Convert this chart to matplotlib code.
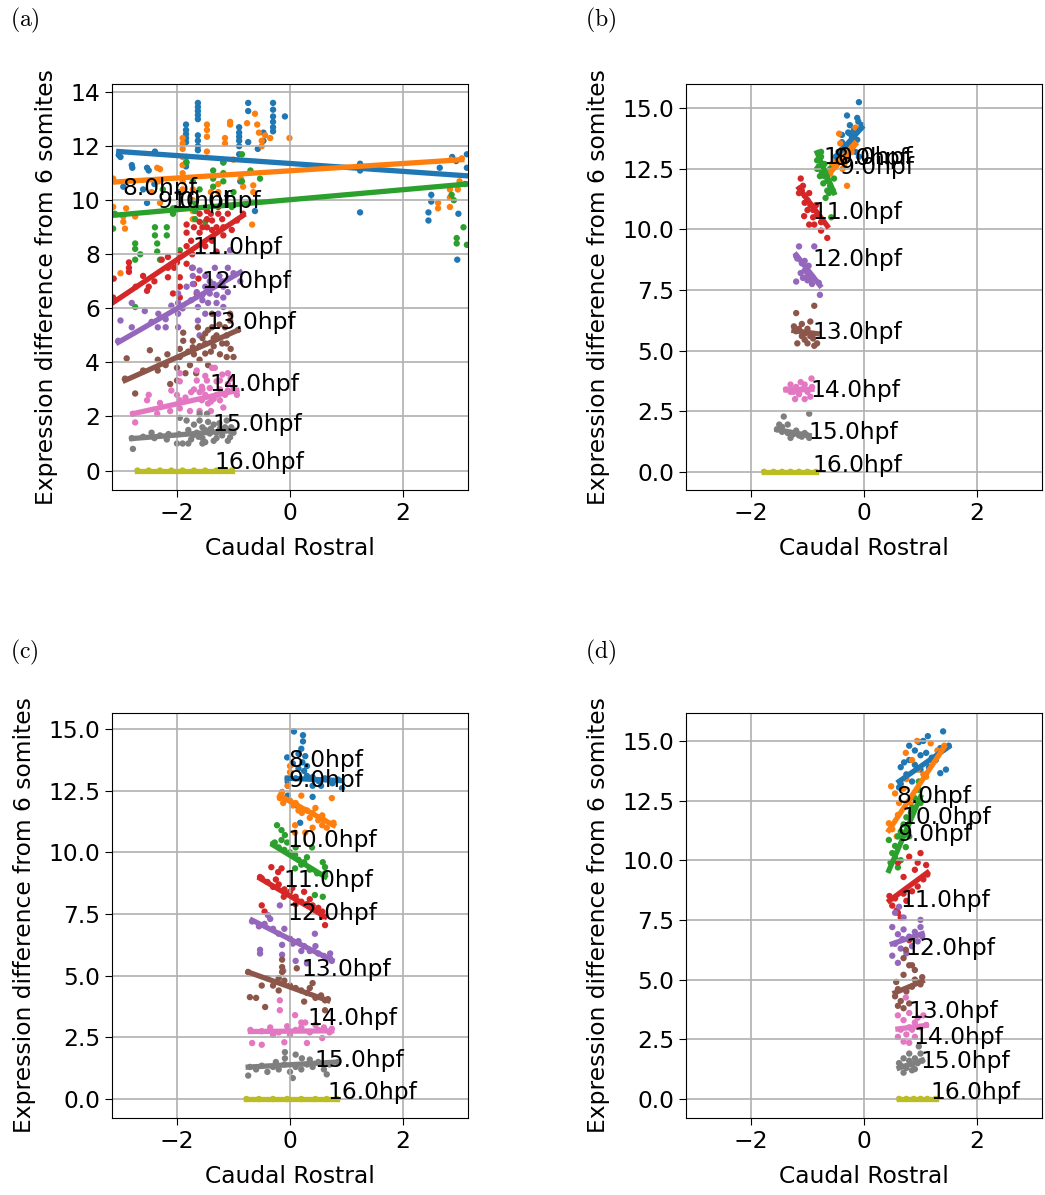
import numpy as np
import matplotlib
matplotlib.use("Agg")
import matplotlib.pyplot as plt

plt.rcParams["mathtext.fontset"] = "cm"
plt.rcParams["font.family"] = ["DejaVu Sans"]

hours = [8.0, 9.0, 10.0, 11.0, 12.0, 13.0, 14.0, 15.0, 16.0]
colors = ["C0", "C1", "C2", "C3", "C4", "C5", "C6", "C7", "C8"]

# ---------------- panel (a): cells per stage, (position, expression) ----------------
a8 = [(-3.03, 11.67), (-3.0, 11.6), (-2.95, 10.5), (-2.8, 11.3), (-2.79, 11.2), (-2.6, 10.4),
      (-2.53, 11.2), (-2.5, 11.1), (-2.53, 9.9), (-2.4, 10.6), (-2.39, 11.8),
      (-1.84, 12.8), (-1.84, 12.6), (-1.84, 12.45), (-1.84, 12.3), (-1.84, 12.15), (-1.84, 11.4),
      (-1.84, 11.25), (-1.63, 13.6), (-1.63, 13.45), (-1.63, 13.3), (-1.63, 13.15), (-1.63, 13.0),
      (-1.63, 12.4), (-1.63, 12.2), (-1.63, 12.0), (-1.63, 11.85), (-1.95, 10.3), (-1.18, 11.4),
      (-0.9, 12.7), (-0.9, 12.5), (-0.9, 12.35), (-0.9, 12.2), (-0.9, 12.0), (-0.9, 11.7), (-0.88, 10.7),
      (-0.74, 13.6), (-0.74, 13.3), (-0.74, 12.15), (-0.57, 11.9), (-0.47, 12.5), (-0.47, 12.2),
      (-0.3, 13.6), (-0.3, 13.35), (-0.3, 13.1), (-0.3, 12.9), (-0.3, 12.7), (-0.3, 12.55),
      (-0.09, 13.1), (-0.62, 9.6), (1.24, 11.35), (1.24, 11.1), (1.24, 9.55), (2.5, 10.2),
      (2.5, 9.95), (2.45, 9.55), (2.45, 9.25), (2.65, 11.2), (2.87, 11.6), (2.94, 11.45),
      (2.98, 9.5), (2.96, 7.8), (3.13, 11.7), (3.13, 11.2), (3.1, 10.6)]
a9 = [(-3.13, 10.8), (-3.13, 9.75), (-2.95, 9.4), (-2.95, 9.2), (-2.92, 8.95), (-3.0, 7.3),
      (-2.9, 9.7), (-2.74, 9.4), (-2.35, 11.2), (-2.3, 11.15), (-2.3, 9.9), (-2.33, 10.7),
      (-2.45, 10.3), (-1.9, 12.3), (-1.9, 12.1), (-1.9, 11.9), (-1.9, 11.6), (-1.9, 11.3),
      (-1.9, 11.0), (-1.9, 10.7), (-1.9, 10.4), (-1.47, 12.8), (-1.47, 12.6), (-1.47, 12.35),
      (-1.47, 11.8), (-1.72, 10.4), (-1.72, 10.0), (-1.72, 9.6), (-1.72, 9.3), (-1.15, 12.3),
      (-1.15, 12.1), (-1.06, 12.9), (-1.06, 12.8), (-1.27, 10.6), (-1.27, 10.3), (-0.83, 10.5),
      (-0.76, 12.85), (-0.62, 13.2), (-0.58, 12.8), (-0.55, 12.5), (-0.5, 12.2), (-0.5, 12.0),
      (-0.44, 12.4), (-0.35, 12.3), (-0.01, 12.3), (-0.67, 9.1), (-0.87, 10.8), (-1.4, 10.3),
      (-1.0, 11.5), (-0.65, 10.55), (-0.65, 10.3), (2.62, 9.9), (2.62, 9.7), (2.83, 10.4),
      (2.83, 10.1), (2.83, 9.75), (2.97, 10.4), (2.85, 11.5), (3.0, 10.7), (3.04, 11.55)]
a10 = [(-3.13, 8.95), (-3.1, 9.5), (-2.74, 8.4), (-2.74, 8.2), (-2.74, 7.8), (-2.74, 6.05),
       (-2.65, 8.0), (-2.39, 9.0), (-2.39, 8.7), (-2.35, 8.4), (-2.35, 8.1), (-2.3, 7.8),
       (-2.18, 9.0), (-2.18, 8.7), (-2.07, 9.7), (-2.07, 9.5), (-1.95, 8.15), (-1.72, 10.7),
       (-1.68, 9.9), (-1.68, 9.6), (-1.68, 9.3), (-1.6, 10.4), (-1.36, 11.1), (-1.36, 10.8),
       (-1.36, 10.5), (-1.18, 11.4), (-1.18, 11.0), (-1.18, 10.7), (-1.03, 9.75), (-0.85, 11.7),
       (-0.85, 10.7), (-0.7, 11.1), (-0.53, 10.8), (-1.83, 11.6), (-1.83, 11.4), (-2.25, 10.4),
       (-1.5, 9.2), (-1.0, 10.3), (2.86, 10.2), (2.9, 10.0), (2.95, 8.6), (2.95, 8.4),
       (3.07, 9.0), (3.13, 8.35)]
a11 = [(-3.12, 7.1), (-2.85, 7.7), (-2.85, 7.5), (-2.85, 7.35), (-2.73, 6.8), (-2.53, 6.65),
       (-2.5, 6.8), (-2.27, 7.8), (-2.16, 7.9), (-2.16, 7.5), (-2.16, 7.15), (-2.05, 7.5),
       (-1.95, 7.15), (-1.95, 6.8), (-1.95, 6.4), (-1.83, 7.65), (-1.83, 8.3), (-1.73, 8.0),
       (-1.73, 7.5), (-1.62, 7.1), (-1.83, 9.1), (-1.83, 8.8), (-1.6, 9.5), (-1.6, 9.2),
       (-1.6, 8.8), (-1.47, 9.6), (-1.47, 9.3), (-1.47, 9.0), (-1.38, 9.25), (-1.38, 8.9),
       (-1.38, 8.5), (-1.27, 9.75), (-1.27, 9.5), (-1.18, 9.0), (-1.18, 8.7), (-1.03, 8.9),
       (-0.94, 9.25), (-0.83, 9.5), (-2.07, 6.55), (-1.65, 6.55), (-1.7, 6.9), (-2.6, 7.2),
       (-2.4, 7.0), (-1.5, 8.3), (-1.3, 8.1), (-3.13, 6.4), (-1.7, 9.0), (-1.55, 9.0),
       (-1.4, 9.5), (-1.3, 9.0), (-1.2, 9.3), (-1.1, 9.5), (-1.75, 8.5), (-1.95, 8.0),
       (-2.0, 7.7)]
a12 = [(-3.04, 4.8), (-3.0, 5.55), (-2.8, 6.2), (-2.8, 5.3), (-2.57, 5.9), (-2.34, 5.3),
       (-2.33, 5.8), (-2.2, 5.6), (-2.2, 5.3), (-1.98, 6.55), (-1.98, 6.2), (-1.98, 5.8),
       (-1.98, 5.3), (-1.83, 6.8), (-1.72, 7.5), (-1.72, 7.2), (-1.72, 6.9), (-1.63, 6.05),
       (-1.63, 5.55), (-1.55, 6.5), (-1.55, 6.3), (-1.42, 7.0), (-1.42, 6.75), (-1.42, 6.55),
       (-1.33, 7.5), (-1.27, 5.8), (-1.18, 6.8), (-1.18, 6.4), (-1.18, 6.05), (-1.1, 7.5),
       (-1.06, 8.15), (-1.6, 5.0), (-1.9, 6.0), (-1.5, 7.2), (-1.3, 6.2), (-0.88, 7.0),
       (-1.0, 7.3), (-2.45, 5.5), (-2.1, 6.1), (-1.65, 6.6), (-1.5, 6.8), (-1.45, 6.2),
       (-1.35, 6.9), (-1.25, 7.2), (-1.3, 6.5), (-1.2, 7.0), (-1.6, 7.4), (-1.75, 6.3),
       (-1.5, 5.8), (-1.1, 6.6)]
a13 = [(-2.92, 3.4), (-2.89, 4.15), (-2.74, 2.85), (-2.48, 4.45), (-2.34, 4.1), (-2.34, 3.7),
       (-2.17, 4.3), (-2.12, 3.2), (-2.0, 3.8), (-2.0, 3.33), (-1.95, 4.5), (-1.95, 4.2),
       (-1.89, 5.1), (-1.89, 4.8), (-1.77, 3.9), (-1.72, 4.8), (-1.72, 4.56), (-1.66, 3.6),
       (-1.63, 5.3), (-1.5, 5.07), (-1.5, 4.7), (-1.5, 4.33), (-1.38, 5.8), (-1.38, 5.3),
       (-1.35, 4.9), (-1.35, 4.6), (-1.24, 4.3), (-1.12, 4.2), (-1.12, 5.0), (-1.12, 4.7),
       (-1.06, 5.8), (-1.06, 5.55), (-1.0, 4.2), (-0.92, 5.2), (-1.6, 4.1), (-1.8, 4.4),
       (-2.6, 3.7), (-1.45, 3.9), (-1.55, 4.9), (-1.45, 5.2), (-1.4, 4.4), (-1.3, 5.0),
       (-1.25, 5.4), (-1.2, 4.7), (-1.15, 5.3), (-1.6, 4.6), (-1.7, 4.3), (-2.2, 3.9),
       (-1.85, 3.6), (-1.05, 4.5)]
a14 = [(-2.78, 2.1), (-2.74, 1.78), (-2.53, 2.6), (-2.5, 2.8), (-2.35, 2.1), (-2.3, 2.5),
       (-2.12, 2.2), (-2.1, 2.96), (-1.95, 3.6), (-1.95, 3.3), (-1.95, 2.6), (-1.95, 2.3),
       (-1.77, 2.2), (-1.75, 2.9), (-1.65, 3.7), (-1.65, 3.33), (-1.56, 3.1), (-1.56, 2.6),
       (-1.47, 3.33), (-1.45, 2.48), (-1.4, 2.2), (-1.38, 3.8), (-1.33, 3.8), (-1.24, 3.33),
       (-1.24, 3.0), (-1.24, 2.6), (-1.18, 2.33), (-1.1, 3.6), (-1.1, 3.2), (-1.1, 2.96),
       (-1.0, 3.07), (-0.94, 2.8), (-1.5, 2.8), (-1.3, 2.8), (-1.85, 2.7), (-1.6, 2.2),
       (-1.55, 3.0), (-1.5, 3.5), (-1.42, 3.05), (-1.35, 2.65), (-1.3, 3.3), (-1.2, 3.55),
       (-1.15, 2.8), (-1.05, 3.4), (-1.6, 2.9), (-1.7, 3.0), (-1.4, 2.55), (-2.0, 2.8)]
a15 = [(-2.8, 1.2), (-2.78, 0.8), (-2.45, 1.4), (-2.4, 1.2), (-2.18, 1.15), (-2.15, 1.35),
       (-2.0, 1.0), (-1.97, 1.35), (-1.83, 1.85), (-1.8, 1.5), (-1.8, 1.0), (-1.72, 1.3),
       (-1.6, 2.1), (-1.6, 1.85), (-1.55, 1.6), (-1.55, 1.2), (-1.55, 1.0), (-1.47, 2.1),
       (-1.42, 1.37), (-1.35, 1.7), (-1.35, 1.1), (-1.24, 1.55), (-1.12, 1.85), (-1.06, 1.23),
       (-1.04, 1.6), (-1.95, 1.95), (-1.9, 1.0), (-1.3, 1.4), (-1.65, 1.4), (-1.0, 1.4),
       (-1.5, 1.5), (-1.45, 1.8), (-1.4, 1.55), (-1.3, 1.2), (-1.25, 1.75), (-1.2, 1.3),
       (-1.15, 1.6), (-1.1, 1.1), (-1.05, 1.45), (-1.7, 1.7), (-1.75, 1.15), (-1.62, 1.25),
       (-1.5, 1.05), (-2.3, 1.3), (-2.6, 1.25)]
a16 = [(-2.7, 0.0), (-2.5, 0.0), (-2.3, 0.0), (-2.1, 0.0), (-1.9, 0.0), (-1.7, 0.0),
       (-1.5, 0.0), (-1.3, 0.0), (-1.15, 0.0), (-1.03, 0.0)]
# regression (slope, intercept) per stage
a_fit = [(-0.146, 11.36), (0.1345, 11.09), (0.185, 10.02), (1.4, 10.6), (1.2, 8.39),
         (0.93, 6.05), (0.467, 3.40), (0.167, 1.65), (0.0, 0.0)]
a_lab = [(-2.97, 10.2), (-2.35, 9.73), (-2.09, 9.73), (-1.72, 8.0), (-1.56, 6.75),
         (-1.47, 5.25), (-1.42, 2.96), (-1.38, 1.48), (-1.33, 0.07)]

# ---------------- panel (b) ----------------
b8 = [(-0.3, 14.7), (-0.09, 15.25), (-0.12, 14.6), (-0.1, 14.45), (-0.25, 14.3), (-0.25, 13.95),
      (-0.21, 13.8), (-0.21, 13.4), (-0.39, 13.9), (-0.39, 13.6), (-0.39, 13.3), (-0.39, 13.0),
      (-0.15, 13.2), (-0.5, 13.0), (-0.09, 13.0), (-0.3, 13.5), (-0.18, 14.1), (-0.45, 13.2),
      (-0.05, 14.2), (-0.28, 14.0), (-0.04, 14.3), (-0.33, 13.2), (-0.12, 13.7)]
b9 = [(-0.44, 13.95), (-0.42, 13.55), (-0.15, 14.2), (-0.3, 11.8), (-0.57, 12.7), (-0.5, 12.6),
      (-0.45, 12.8), (-0.4, 13.0), (-0.35, 12.7), (-0.3, 13.3), (-0.25, 13.5), (-0.2, 13.6),
      (-0.5, 12.9), (-0.38, 12.5), (-0.28, 12.9), (-0.6, 12.3), (-0.33, 13.1), (-0.22, 13.2)]
b10 = [(-0.76, 13.2), (-0.76, 13.0), (-0.83, 12.85), (-0.8, 12.6), (-0.75, 12.4), (-0.7, 12.2),
       (-0.83, 12.5), (-0.67, 12.3), (-0.65, 12.0), (-0.6, 11.8), (-0.55, 11.6), (-0.53, 12.1),
       (-0.68, 11.3), (-0.58, 10.5), (-0.62, 11.5), (-0.72, 11.9), (-0.78, 12.2), (-0.6, 12.5),
       (-0.7, 12.7), (-0.65, 11.6)]
b11 = [(-1.12, 12.1), (-1.1, 11.6), (-1.15, 11.5), (-1.05, 11.4), (-1.0, 11.2), (-0.95, 11.0),
       (-0.9, 10.8), (-0.83, 10.6), (-1.06, 10.55), (-0.97, 10.2), (-0.97, 11.5), (-0.76, 10.3),
       (-0.76, 9.95), (-0.65, 9.65), (-0.9, 10.5), (-1.0, 10.8), (-0.85, 11.0), (-1.08, 11.8),
       (-1.05, 11.1), (-0.88, 10.2)]
b12 = [(-1.15, 9.3), (-0.88, 9.3), (-1.2, 8.9), (-1.18, 8.8), (-1.1, 8.6), (-1.05, 8.3),
       (-1.0, 8.1), (-0.95, 7.9), (-0.92, 7.75), (-1.2, 7.85), (-1.0, 7.9), (-0.8, 7.8),
       (-0.78, 7.3), (-1.05, 8.7), (-1.12, 8.2), (-0.98, 8.5), (-0.9, 8.0), (-1.08, 8.0)]
b13 = [(-1.2, 6.55), (-0.88, 6.85), (-1.24, 6.0), (-1.2, 5.8), (-1.15, 5.9), (-1.1, 6.1),
       (-1.05, 5.7), (-1.0, 5.9), (-0.95, 5.6), (-0.9, 5.5), (-0.83, 5.3), (-1.18, 5.3),
       (-0.95, 6.2), (-0.88, 5.2), (-1.05, 5.45), (-1.1, 5.6), (-1.0, 5.3)]
b14 = [(-1.38, 3.4), (-1.3, 3.6), (-1.25, 3.3), (-1.2, 3.5), (-1.15, 3.2), (-1.1, 3.4),
       (-1.05, 3.6), (-1.0, 3.3), (-0.95, 3.1), (-0.92, 3.5), (-0.93, 3.85), (-1.22, 3.0),
       (-1.05, 3.0), (-1.3, 3.3), (-1.12, 3.7), (-1.18, 3.4)]
b15 = [(-1.42, 2.28), (-0.97, 2.4), (-1.5, 1.95), (-1.35, 1.95), (-1.54, 1.75), (-1.45, 1.65),
       (-1.35, 1.6), (-1.25, 1.55), (-1.2, 1.7), (-1.15, 1.5), (-1.1, 1.45), (-1.05, 1.6),
       (-1.0, 1.5), (-0.97, 1.4), (-1.3, 1.4), (-1.45, 1.85)]
b16 = [(-1.77, 0.0), (-1.6, 0.0), (-1.45, 0.0), (-1.3, 0.0), (-1.15, 0.0), (-1.0, 0.0), (-0.85, 0.0)]
b_fit = [(2.6, 14.3), (2.6, 13.9), (-5.5, 8.6), (-3.1, 8.13), (-3.0, 5.35),
         (-0.3, 5.45), (0.05, 3.45), (-0.43, 1.08), (0.0, 0.0)]
b_lab = [(-0.55, 12.65), (-0.44, 12.3), (-0.71, 12.7), (-0.92, 10.45), (-0.92, 8.5),
         (-0.92, 5.47), (-0.94, 3.1), (-0.99, 1.37), (-0.92, 0.0)]

# ---------------- panel (c) ----------------
c8 = [(0.07, 14.9), (0.23, 14.75), (0.23, 14.5), (0.2, 14.2), (0.27, 13.9), (0.22, 13.65),
      (-0.05, 13.85), (0.05, 13.6), (0.15, 13.4), (0.25, 13.3), (0.3, 13.1), (-0.04, 12.85),
      (-0.04, 12.7), (-0.04, 12.3), (0.4, 13.05), (0.4, 12.7), (0.62, 13.0), (0.75, 12.8),
      (0.92, 12.6), (0.85, 12.95), (0.12, 11.9), (0.4, 12.25), (0.18, 11.2), (0.1, 13.0),
      (0.5, 12.9), (0.15, 14.0), (0.3, 13.5), (0.55, 12.7)]
c9 = [(0.0, 13.5), (0.0, 13.25), (-0.14, 12.45), (-0.14, 12.25), (-0.12, 12.0), (0.0, 12.1),
      (0.05, 11.9), (0.1, 12.0), (0.21, 11.6), (0.3, 11.7), (0.35, 11.4), (0.57, 11.5),
      (0.57, 11.1), (0.77, 11.2), (0.74, 12.2), (0.09, 11.1), (0.09, 10.8), (0.27, 10.8),
      (0.5, 11.3), (-0.04, 13.0), (-0.04, 12.7), (0.45, 11.8), (0.65, 11.0), (0.2, 12.3),
      (0.4, 11.0), (-0.18, 12.2), (0.15, 11.7), (0.4, 11.6), (0.6, 11.3)]
c10 = [(-0.23, 11.1), (-0.15, 10.9), (-0.09, 10.7), (-0.27, 10.4), (-0.3, 10.35), (-0.2, 10.2),
       (-0.1, 10.1), (0.0, 10.0), (0.09, 9.9), (0.15, 9.7), (0.25, 9.6), (0.3, 9.8), (0.39, 10.2),
       (0.58, 9.6), (0.62, 9.4), (0.62, 9.15), (0.48, 9.15), (0.44, 8.27), (0.58, 8.2),
       (0.09, 9.35), (0.2, 9.5), (-0.05, 10.4), (0.35, 9.3), (-0.15, 10.5), (0.1, 10.2)]
c11 = [(-0.33, 9.4), (-0.21, 9.2), (-0.15, 9.35), (-0.5, 8.95), (-0.4, 8.8), (-0.3, 8.6),
       (-0.2, 8.7), (-0.1, 8.5), (0.0, 8.4), (0.04, 8.55), (0.1, 8.2), (0.2, 8.0), (0.3, 7.9),
       (0.4, 7.85), (0.5, 7.75), (0.57, 7.6), (0.57, 7.4), (0.62, 7.05), (-0.5, 7.85),
       (-0.45, 7.6), (-0.11, 8.2), (0.25, 8.4), (0.1, 7.9), (-0.53, 9.0), (-0.25, 8.9),
       (0.35, 8.1)]
c12 = [(-0.18, 7.85), (-0.39, 7.45), (-0.67, 7.2), (-0.55, 7.0), (-0.45, 7.1), (-0.3, 6.9),
       (-0.2, 6.7), (-0.1, 6.9), (0.0, 6.5), (0.05, 6.3), (0.15, 6.4), (0.25, 6.2), (0.35, 6.0),
       (0.44, 6.7), (0.5, 5.9), (0.6, 5.8), (0.71, 5.9), (0.71, 5.7), (-0.53, 6.05),
       (-0.53, 5.9), (-0.14, 6.25), (-0.14, 5.85), (0.1, 5.6), (0.3, 5.5), (-0.12, 5.2),
       (0.74, 5.6), (-0.35, 7.3), (0.2, 6.0), (0.45, 6.2)]
c13 = [(-0.14, 5.65), (-0.14, 5.35), (-0.14, 5.15), (-0.74, 5.15), (-0.71, 4.13), (-0.6, 4.1),
       (-0.44, 3.73), (-0.4, 4.9), (-0.3, 4.6), (-0.2, 4.4), (-0.1, 4.8), (0.0, 4.6), (0.12, 5.3),
       (0.1, 4.5), (0.2, 4.4), (0.3, 4.3), (0.4, 4.7), (0.45, 4.1), (0.55, 4.2), (0.62, 4.0),
       (0.62, 3.6), (0.67, 4.05), (-0.5, 4.6), (0.25, 3.95), (-0.2, 4.9), (0.35, 4.5)]
c14 = [(-0.18, 4.0), (-0.18, 3.6), (0.09, 3.4), (0.27, 3.1), (-0.7, 2.8), (-0.5, 2.75),
       (-0.35, 2.9), (-0.2, 2.7), (-0.05, 2.95), (0.1, 2.8), (0.2, 2.9), (0.35, 2.7), (0.5, 2.8),
       (0.6, 2.9), (0.74, 2.85), (0.7, 2.7), (-0.67, 2.27), (-0.5, 2.2), (-0.1, 2.3), (0.3, 2.27),
       (0.57, 2.47), (0.0, 2.6), (0.45, 3.0), (0.2, 3.1), (-0.3, 2.6)]
c15 = [(-0.09, 1.9), (-0.09, 1.65), (0.1, 1.8), (0.21, 1.65), (-0.71, 1.3), (-0.6, 1.2),
       (-0.5, 1.35), (-0.4, 1.1), (-0.3, 1.3), (-0.2, 1.2), (-0.1, 1.4), (0.0, 1.1), (0.1, 1.3),
       (0.2, 1.2), (0.3, 1.4), (0.4, 1.3), (0.5, 1.5), (0.6, 1.2), (0.7, 1.4), (0.85, 1.5),
       (0.05, 0.85), (-0.74, 0.95), (0.65, 1.0), (0.35, 1.6), (-0.25, 1.5)]
c16 = [(-0.77, 0.0), (-0.55, 0.0), (-0.3, 0.0), (-0.05, 0.0), (0.2, 0.0), (0.45, 0.0),
       (0.65, 0.0), (0.83, 0.0)]
c_fit = [(-0.1, 13.0), (-1.26, 12.07), (-1.4, 9.88), (-1.35, 8.23), (-1.15, 6.48),
         (-0.82, 4.54), (0.02, 2.75), (0.13, 1.39), (0.0, 0.0)]
c_lab = [(-0.02, 13.45), (-0.02, 12.65), (-0.04, 10.2), (-0.12, 8.6), (-0.05, 7.25),
         (0.21, 5.0), (0.3, 3.0), (0.44, 1.3), (0.67, 0.0)]

# ---------------- panel (d) ----------------
d8 = [(1.4, 15.4), (1.13, 15.2), (0.97, 14.95), (0.8, 14.8), (0.9, 14.6), (1.0, 14.4),
      (1.1, 14.5), (1.2, 14.3), (1.35, 14.7), (1.5, 14.8), (0.71, 14.1), (0.65, 13.9),
      (0.75, 13.6), (0.85, 13.3), (0.65, 13.2), (1.27, 14.2), (1.45, 13.8), (1.35, 13.65),
      (0.62, 13.05), (1.0, 13.8), (1.15, 13.9), (0.8, 14.2), (1.05, 15.0), (0.9, 14.0)]
d9 = [(0.94, 15.0), (0.48, 13.1), (0.55, 12.8), (0.62, 12.4), (0.44, 11.55), (0.5, 11.3),
      (0.58, 11.0), (0.74, 14.5), (0.85, 14.2), (0.95, 13.8), (1.05, 13.6), (1.1, 13.5),
      (1.18, 14.9), (0.83, 12.4), (0.7, 13.0), (1.3, 14.6), (1.42, 14.8), (0.6, 11.9),
      (0.75, 13.4), (1.2, 14.2)]
d10 = [(0.97, 13.3), (0.97, 12.95), (0.9, 12.6), (0.85, 12.2), (0.83, 12.0), (0.75, 11.8),
       (0.7, 11.5), (0.65, 11.2), (0.6, 11.0), (0.44, 10.85), (0.55, 10.6), (0.74, 10.55),
       (0.5, 10.3), (0.47, 9.9), (0.6, 9.7), (0.8, 11.0), (1.0, 12.4), (0.55, 10.1), (0.65, 10.0)]
d11 = [(1.1, 9.8), (1.0, 10.3), (0.8, 10.15), (0.6, 9.9), (0.9, 9.6), (1.05, 9.2), (0.95, 8.9),
       (0.85, 8.7), (0.7, 8.6), (0.55, 8.4), (0.5, 8.1), (0.6, 7.8), (0.58, 7.9), (0.75, 8.3),
       (0.65, 7.6), (0.8, 6.65), (1.12, 9.4), (0.45, 8.5), (0.7, 9.3), (0.95, 9.9)]
d12 = [(0.62, 8.05), (0.55, 7.8), (0.7, 7.6), (0.5, 7.2), (0.6, 6.9), (0.7, 7.1), (0.8, 6.8),
       (0.9, 7.0), (1.0, 7.5), (1.0, 7.2), (1.03, 6.8), (0.55, 6.5), (0.65, 6.3), (0.75, 6.1),
       (0.5, 6.0), (0.6, 5.7), (0.85, 6.4), (0.95, 6.6), (0.68, 6.7)]
d13 = [(0.74, 6.25), (0.7, 5.9), (0.8, 5.6), (0.9, 5.4), (1.03, 5.1), (0.95, 4.9), (0.85, 4.7),
       (0.75, 4.5), (0.6, 4.6), (0.55, 4.3), (0.65, 4.1), (0.8, 4.0), (0.7, 3.8), (0.6, 3.9),
       (1.0, 4.8), (0.9, 5.0), (0.57, 4.9), (0.85, 5.6), (0.7, 5.2)]
d14 = [(0.74, 4.25), (0.6, 3.5), (0.7, 3.3), (0.8, 3.6), (0.9, 3.2), (1.0, 3.0), (1.1, 3.1),
       (0.65, 2.9), (0.75, 2.7), (0.85, 2.9), (0.95, 3.4), (0.6, 2.6), (0.7, 2.4), (0.8, 2.35),
       (1.05, 3.5), (0.9, 2.6), (0.8, 3.0)]
d15 = [(0.97, 2.2), (1.0, 1.9), (0.9, 1.7), (0.8, 1.6), (0.7, 1.7), (0.65, 1.4), (0.75, 1.3),
       (0.85, 1.2), (0.95, 1.5), (1.03, 1.6), (0.7, 1.1), (0.9, 1.25), (0.62, 1.5), (0.8, 1.9),
       (0.85, 1.45)]
d16 = [(0.62, 0.0), (0.75, 0.0), (0.88, 0.0), (1.0, 0.0), (1.12, 0.0), (1.27, 0.0)]
d_fit = [(1.65, 12.28), (3.56, 9.69), (5.5, 7.15), (1.75, 7.52), (0.8, 6.1),
         (1.0, 3.9), (0.3, 2.75), (0.8, 0.8), (0.0, 0.0)]
d_lab = [(0.57, 12.4), (0.6, 10.8), (0.67, 11.5), (0.65, 8.05), (0.74, 6.05),
         (0.78, 3.4), (0.88, 2.3), (1.0, 1.3), (1.17, 0.0)]

panels = [
    ("(a)", [a8, a9, a10, a11, a12, a13, a14, a15, a16], a_fit, a_lab, (-0.72, 14.3),
     np.arange(0, 15, 2), "{:.0f}"),
    ("(b)", [b8, b9, b10, b11, b12, b13, b14, b15, b16], b_fit, b_lab, (-0.75, 16.0),
     np.arange(0, 15.1, 2.5), "{:.1f}"),
    ("(c)", [c8, c9, c10, c11, c12, c13, c14, c15, c16], c_fit, c_lab, (-0.77, 15.65),
     np.arange(0, 15.1, 2.5), "{:.1f}"),
    ("(d)", [d8, d9, d10, d11, d12, d13, d14, d15, d16], d_fit, d_lab, (-0.8, 16.17),
     np.arange(0, 15.1, 2.5), "{:.1f}"),
]

W, H = 1045, 1195
fig = plt.figure(figsize=(W / 100, H / 100), dpi=100)
boxes = [(112, 84, 468, 490), (686, 84, 1042, 490), (112, 713, 468, 1118), (686, 713, 1042, 1118)]
letters_at = [(10, 20), (585, 20), (10, 652), (585, 652)]
FS = 16.8

for (tag, groups, fits, labs, ylim, yt, fmt), box, lpos in zip(panels, boxes, letters_at):
    l, t, r, b = box
    ax = fig.add_axes([l / W, 1 - b / H, (r - l) / W, (b - t) / H])
    for h, col, pts, (m, c0), (lx, ly) in zip(hours, colors, groups, fits, labs):
        arr = np.array(pts)
        ax.scatter(arr[:, 0], arr[:, 1], s=21, color=col, edgecolors="none")
        xs = np.array([arr[:, 0].min(), arr[:, 0].max()])
        ax.plot(xs, m * xs + c0, color=col, lw=3.8, solid_capstyle="projecting")
        ax.text(lx, ly, f"{h}hpf", fontsize=FS, zorder=5)
    ax.set_xlim(-3.15, 3.15)
    ax.set_ylim(*ylim)
    ax.set_xticks([-2, 0, 2])
    ax.set_yticks(yt)
    ax.set_yticklabels([fmt.format(v) for v in yt])
    ax.tick_params(labelsize=FS, length=5)
    ax.grid(True, color="#b0b0b0", lw=1.2)
    ax.set_xlabel("Caudal Rostral", fontsize=FS, labelpad=9)
    ax.set_ylabel("Expression difference from 6 somites", fontsize=FS, labelpad=9)
    fig.text(lpos[0] / W, 1 - lpos[1] / H, r"$\mathrm{" + tag + "}$", fontsize=17,
             ha="left", va="center")

fig.savefig("out.png", dpi=100)
